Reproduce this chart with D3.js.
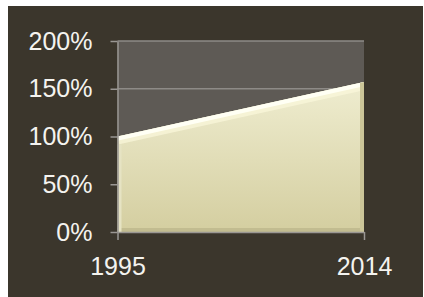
<!DOCTYPE html>
<html>
<head>
<meta charset="utf-8">
<script src="https://cdn.jsdelivr.net/npm/d3@7"></script>
<style>
  body { margin: 0; background: #fff; }
  svg { display: block; }
  .axis text { font-family: "Liberation Sans", Arial, sans-serif; font-size: 25px; fill: #f4f3ef; }
  .axis path, .axis line { stroke: #9a9793; stroke-width: 1.5; }
</style>
</head>
<body>
<svg></svg>
<script>
// Data
const years = [1995, 2014];
const values = [100, 157];   // percent
const yTicks = [0, 50, 100, 150, 200];

const data = years.map((y, i) => ({ year: y, value: values[i] }));

// Constants
const width = 424;
const height = 297;
const plotLeft = 117.5, plotRight = 364, plotTop = 41, plotBottom = 232;

const svg = d3.select("svg")
    .attr("width", width)
    .attr("height", height);

// Scales
const xScale = d3.scaleLinear()
    .domain(d3.extent(years))
    .range([plotLeft, plotRight]);

const yScale = d3.scaleLinear()
    .domain([0, 200])
    .range([plotBottom, plotTop]);

// Background panel
svg.append("rect")
    .attr("x", 8).attr("y", 6)
    .attr("width", width - 9).attr("height", height - 6)
    .attr("fill", "#3b362c");

// Plot area
svg.append("rect")
    .attr("x", plotLeft).attr("y", plotTop)
    .attr("width", plotRight - plotLeft).attr("height", plotBottom - plotTop)
    .attr("fill", "#5e5a55");

// Gridlines
svg.append("g")
  .selectAll("line")
  .data(yTicks.slice(1))
  .enter()
    .append("line")
    .attr("x1", plotLeft).attr("x2", plotRight)
    .attr("y1", d => yScale(d)).attr("y2", d => yScale(d))
    .attr("stroke", "#8e8b87")
    .attr("stroke-width", 1.5);

// Gradients
const defs = svg.append("defs");
const grad = defs.append("linearGradient")
    .attr("id", "fillGrad")
    .attr("x1", 0).attr("y1", 0).attr("x2", 0).attr("y2", 1);
grad.append("stop").attr("offset", "0%").attr("stop-color", "#efedd0");
grad.append("stop").attr("offset", "100%").attr("stop-color", "#d4cea0");

const area = d3.area()
    .x(d => xScale(d.year))
    .y0(yScale(0))
    .y1(d => yScale(d.value));

defs.append("clipPath")
    .attr("id", "areaClip")
  .append("path")
    .attr("d", area(data));

svg.append("path")
    .datum(data)
    .attr("d", area)
    .attr("fill", "url(#fillGrad)");

// Bevel edges
const bevel = svg.append("g").attr("clip-path", "url(#areaClip)");

const topEdge = d3.line().x(d => xScale(d.year)).y(d => yScale(d.value));

bevel.append("path")
    .datum(data)
    .attr("d", topEdge)
    .attr("fill", "none")
    .attr("stroke", "#fbf8dc")
    .attr("stroke-opacity", 0.7)
    .attr("stroke-width", 16);

bevel.append("path")
    .datum(data)
    .attr("d", topEdge)
    .attr("fill", "none")
    .attr("stroke", "#fffff4")
    .attr("stroke-width", 8);

bevel.append("line")
    .attr("x1", plotLeft).attr("x2", plotRight)
    .attr("y1", yScale(0) - 2).attr("y2", yScale(0) - 2)
    .attr("stroke", "#c2bc90").attr("stroke-width", 4);

bevel.append("line")
    .attr("x1", plotRight - 2).attr("x2", plotRight - 2)
    .attr("y1", yScale(values[1])).attr("y2", yScale(0))
    .attr("stroke", "#cbc598").attr("stroke-width", 4);

bevel.append("line")
    .attr("x1", plotLeft + 2).attr("x2", plotLeft + 2)
    .attr("y1", yScale(values[0]) + 8).attr("y2", yScale(0))
    .attr("stroke", "#e6e3c3").attr("stroke-width", 4);

// Axes
const yAxis = d3.axisLeft(yScale)
    .tickValues(yTicks)
    .tickSize(7)
    .tickSizeOuter(0)
    .tickPadding(18)
    .tickFormat(d => d + "%");

const xAxis = d3.axisBottom(xScale)
    .tickValues(years)
    .tickSize(8)
    .tickSizeOuter(0)
    .tickPadding(17)
    .tickFormat(d3.format("d"));

svg.append("g")
    .attr("class", "axis")
    .attr("transform", `translate(${plotLeft},0)`)
    .call(yAxis);

svg.append("g")
    .attr("class", "axis")
    .attr("transform", `translate(0,${plotBottom})`)
    .call(xAxis);
</script>
</body>
</html>
